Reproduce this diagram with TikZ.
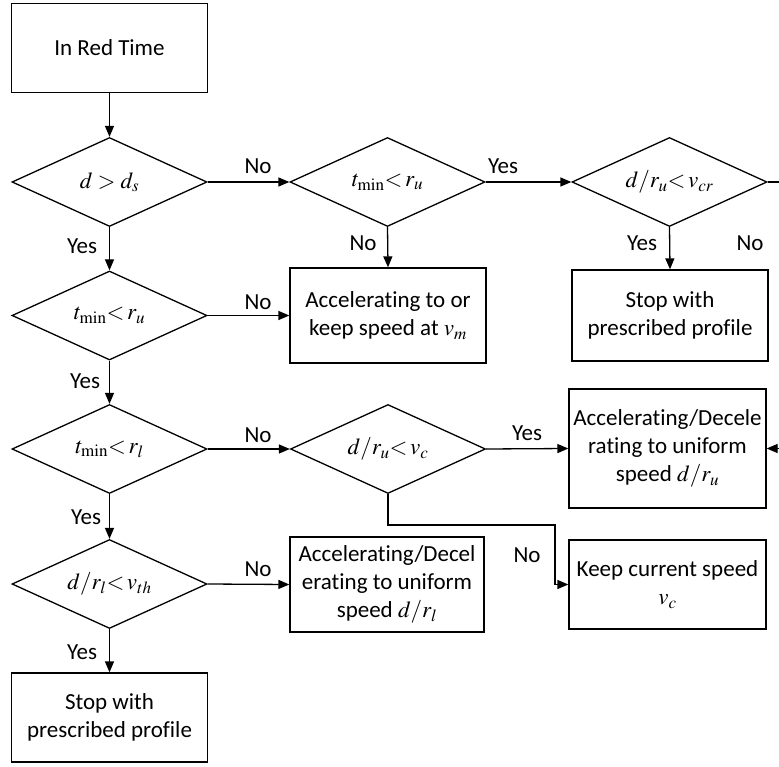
\documentclass[tikz,border=0pt]{standalone}
\usepackage{mathptmx}
\usepackage[no-math]{fontspec}
\setmainfont[Ligatures=NoCommon]{Carlito}
\usetikzlibrary{shapes.geometric,arrows.meta}
\begin{document}
\begin{tikzpicture}[x=1pt,y=-1pt,
  every node/.style={font=\fontsize{23}{28}\selectfont},
  box/.style={draw,line width=1.3pt,rectangle,minimum width=196pt,minimum height=89pt,align=center,inner sep=0pt},
  dia/.style={draw,line width=1.3pt,diamond,aspect=2.19,minimum width=195pt,minimum height=89pt,inner sep=0pt},
  arr/.style={line width=1.3pt,-{Triangle[length=11pt,width=9pt]}},
  lab/.style={inner sep=0pt}]
\useasboundingbox (0,0) rectangle (779,767);
% nodes
\node[box] (start) at (109.5,48) {In Red Time};
\node[dia] (D1) at (109.5,182) {$d > d_s$};
\node[dia] (D2) at (387.5,182) {$t_{\mathrm{min}}{<}\,r_u$};
\node[dia] (D3) at (669.5,182) {$d/r_u{<}\,v_{cr}$};
\node[dia] (D4) at (109.5,315.5) {$t_{\mathrm{min}}{<}\,r_u$};
\node[box,minimum height=95pt] (Bm) at (388,315.5) {Accelerating to or\\keep speed at $v_m$};
\node[box,minimum height=91pt] (Bs1) at (670,315.5) {Stop with\\prescribed profile};
\node[dia] (D5) at (109.5,449) {$t_{\mathrm{min}}{<}\,r_l$};
\node[dia] (D6) at (388,449) {$d/r_u{<}\,v_c$};
\node[box,minimum width=197pt,minimum height=119pt] (Bu) at (667.5,448.5) {Accelerating/Decele\\rating to uniform\\speed $d/r_u$};
\node[dia] (D7) at (109.5,584) {$d/r_l{<}\,v_{th}$};
\node[box,minimum width=194pt,minimum height=95pt] (Bl) at (387,584.5) {Accelerating/Decel\\erating to uniform\\speed $d/r_l$};
\node[box,minimum width=197pt] (Bk) at (667.5,584.5) {Keep current speed\\$v_c$};
\node[box] (Bs2) at (109.5,717.5) {Stop with\\prescribed profile};
% helper coordinates
\coordinate (r1) at (800,182);
\coordinate (r2) at (800,448.5);
\coordinate (c1) at (555,525);
% connectors
\draw[arr] (start) -- (D1);
\draw[arr] (D1.east) -- (D2.west);
\draw[arr] (D2.east) -- (D3.west);
\draw[arr] (D1.south) -- (D4.north);
\draw[arr] (D2.south) -- (Bm.north);
\draw[arr] (D3.south) -- (Bs1.north);
\draw[arr] (D4.east) -- (Bm.west);
\draw[arr] (D4.south) -- (D5.north);
\draw[arr] (D5.east) -- (D6.west);
\draw[arr] (D6.east) -- (Bu.west);
\draw[arr] (D6.south) |- (c1) |- (Bk.west);
\draw[arr] (D5.south) -- (D7.north);
\draw[arr] (D7.east) -- (Bl.west);
\draw[arr] (D7.south) -- (Bs2.north);
\draw[arr] (D3.east) -- (r1) -- (r2) -- (Bu.east);
% labels
\node[lab] (l1) at (258,166) {No};
\node[lab] (l2) at (82,246) {Yes};
\node[lab] (l3) at (363,243) {No};
\node[lab] (l4) at (503,166) {Yes};
\node[lab] (l5) at (642,243) {Yes};
\node[lab] (l6) at (750,243) {No};
\node[lab] (l7) at (258,302) {No};
\node[lab] (l8) at (85,381) {Yes};
\node[lab] (l9) at (258,435) {No};
\node[lab] (l10) at (527,433) {Yes};
\node[lab] (l11) at (86,517) {Yes};
\node[lab] (l12) at (527,555) {No};
\node[lab] (l13) at (258,569) {No};
\node[lab] (l14) at (82,652) {Yes};
\end{tikzpicture}
\end{document}
